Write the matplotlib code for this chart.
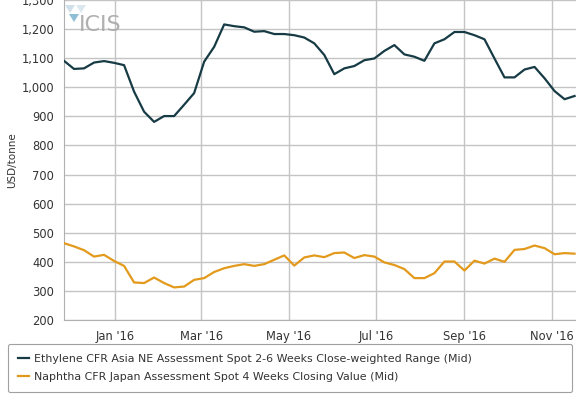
import matplotlib
matplotlib.use('Agg')
import matplotlib.pyplot as plt
import matplotlib.dates as mdates
from matplotlib.patches import Polygon
import numpy as np
import pandas as pd

# weekly assessments, Nov 2015 - Nov 2016 (USD/tonne)
dates = pd.date_range('2015-11-26', periods=52, freq='7D')

ethylene = [1091, 1063, 1065, 1085, 1090, 1084, 1076, 985, 916, 881,
            901, 901, 940, 980, 1088, 1139, 1216, 1210, 1206, 1191,
            1193, 1183, 1183, 1179, 1171, 1151, 1111, 1045, 1065, 1073,
            1093, 1099, 1125, 1145, 1113, 1105, 1091, 1151, 1165, 1190,
            1190, 1179, 1165, 1099, 1034, 1034, 1061, 1070, 1031, 987,
            959, 970]

naphtha = [464, 453, 440, 418, 424, 403, 386, 329, 327, 346,
           327, 312, 315, 338, 344, 365, 378, 386, 392, 386,
           392, 407, 422, 387, 415, 422, 416, 430, 432, 413,
           423, 418, 398, 389, 375, 344, 344, 361, 401, 401,
           370, 404, 394, 411, 400, 441, 444, 456, 447, 426,
           430, 428]

eth_label = 'Ethylene CFR Asia NE Assessment Spot 2-6 Weeks Close-weighted Range (Mid)'
nap_label = 'Naphtha CFR Japan Assessment Spot 4 Weeks Closing Value (Mid)'

ETH_COLOR = '#173b45'
NAP_COLOR = '#e39a1c'
GRID = '#c4c4c4'
TEXT = '#333333'

plt.rcParams['font.family'] = ['DejaVu Sans']

fig = plt.figure(figsize=(5.76, 3.95), dpi=100)
ax = fig.add_axes([64 / 576, 1 - 320 / 395, 1 - 64 / 576, 320 / 395])

ax.plot(dates, ethylene, color=ETH_COLOR, lw=1.6, label=eth_label, zorder=3)
ax.plot(dates, naphtha, color=NAP_COLOR, lw=1.6, label=nap_label, zorder=3)

ax.set_ylim(200, 1300)
ax.set_yticks(np.arange(200, 1301, 100))
ax.yaxis.set_major_formatter(matplotlib.ticker.FuncFormatter(lambda v, p: f'{int(v):,}'))
ax.set_xlim(pd.Timestamp('2015-11-26'), pd.Timestamp('2016-11-18'))
ax.xaxis.set_major_locator(mdates.MonthLocator(bymonth=[1, 3, 5, 7, 9, 11]))
ax.xaxis.set_major_formatter(mdates.DateFormatter("%b '%y"))

ax.grid(True, color=GRID, lw=1.0)
ax.set_axisbelow(True)
for side in ['top', 'right']:
  ax.spines[side].set_visible(False)
for side in ['left', 'bottom']:
  ax.spines[side].set_color('#b0b0b0')
ax.tick_params(axis='both', length=0, labelsize=8.3, colors=TEXT)
ax.tick_params(axis='x', pad=7)
ax.tick_params(axis='y', pad=7)
ax.set_ylabel('USD/tonne', fontsize=7.5, color=TEXT, labelpad=3)

# ICIS watermark
fig.text(79 / 576, 1 - 25 / 395, 'ICIS', fontsize=16, color='#a8a8a8',
         va='center', ha='left', alpha=0.9)
for pts, c in [([(65, 5), (75, 5), (70, 13)], '#cfe0ea'),
               ([(76, 5), (86, 5), (81, 13)], '#dce8ef'),
               ([(69, 14), (79, 14), (74, 22)], '#8fbfd6')]:
  fig.patches.append(Polygon([(x / 576, 1 - y / 395) for x, y in pts],
                             closed=True, transform=fig.transFigure,
                             facecolor=c, edgecolor='none'))

leg = fig.legend(loc='lower left', bbox_to_anchor=(8 / 576, 3 / 395, 564 / 576, 47 / 395),
                 mode='expand', borderaxespad=0, fontsize=7.95, handlelength=1.0,
                 handletextpad=0.5, labelspacing=0.75, borderpad=0.9, fancybox=True,
                 framealpha=1, edgecolor='#a0a0a0')
for t in leg.get_texts():
  t.set_color(TEXT)
leg.get_frame().set_linewidth(0.8)

plt.savefig('out.png', dpi=100)
